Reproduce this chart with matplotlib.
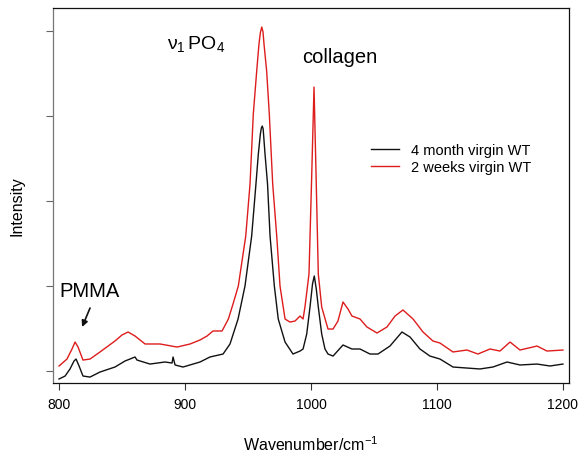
import matplotlib
matplotlib.use("Agg")
import matplotlib.pyplot as plt

plt.rcParams['font.family'] = ['Liberation Sans', 'DejaVu Sans']
plt.rcParams['mathtext.fontset'] = 'custom'
plt.rcParams['mathtext.rm'] = 'Liberation Sans'
plt.rcParams['mathtext.it'] = 'Liberation Sans:italic'
plt.rcParams['mathtext.bf'] = 'Liberation Sans:bold'

# ---- data (wavenumber in cm^-1, intensity in arbitrary units) ----
red_wn = [800.0, 806.3, 810.3, 812.7, 815.1, 819.0, 824.6, 832.5, 844.4, 850.0,
          854.8, 860.3, 868.3, 880.2, 893.7, 904.0, 911.9, 917.5, 922.2, 929.4,
          934.4, 938.1, 942.3, 948.2, 951.6, 954.2, 956.9, 958.7, 959.8,
          960.9, 961.9, 962.7, 964.8, 966.9, 969.6, 972.8, 975.4, 979.4,
          983.3, 987.3, 991.3, 993.7, 995.2, 998.4, 1000.6, 1002.4, 1004.0, 1005.8,
          1008.5, 1013.5, 1017.5, 1021.4, 1025.4, 1029.4, 1032.5, 1038.9, 1044.4, 1052.4,
          1060.3, 1066.7, 1073.0, 1081.0, 1088.9, 1096.8, 1102.4, 1112.7, 1123.8, 1132.5,
          1142.1, 1150.0, 1158.0, 1165.9, 1179.4, 1187.3, 1200.0]
red_int = [0.059, 0.141, 0.259, 0.341, 0.282, 0.129, 0.141, 0.224, 0.353, 0.424,
           0.459, 0.412, 0.318, 0.318, 0.282, 0.318, 0.365, 0.412, 0.471, 0.471,
           0.612, 0.788, 1.000, 1.588, 2.200, 3.024, 3.529, 3.847, 3.980,
           4.047, 3.990, 3.847, 3.529, 3.024, 2.200, 1.588, 1.000, 0.612,
           0.576, 0.588, 0.647, 0.612, 0.753, 1.141, 2.318, 3.341, 2.318, 1.141,
           0.753, 0.494, 0.494, 0.588, 0.812, 0.729, 0.647, 0.612, 0.518, 0.447,
           0.518, 0.647, 0.718, 0.612, 0.459, 0.353, 0.329, 0.224, 0.247, 0.200,
           0.259, 0.235, 0.341, 0.247, 0.294, 0.235, 0.247]

black_wn = [800.0, 804.8, 808.7, 811.9, 813.5, 815.9, 819.0, 824.6, 832.5, 844.4,
            852.4, 856.3, 860.3, 861.9, 864.3, 872.2, 884.1, 889.7, 890.5, 892.1,
            898.4, 911.9, 919.8, 930.2, 935.7, 942.1, 947.6, 952.9, 956.3, 958.2,
            959.8, 960.6, 961.3, 962.0, 962.5, 963.5, 965.5, 967.5, 970.9, 974.0,
            979.4, 985.7, 991.3, 993.7, 996.6, 999.2, 1001.2, 1002.6, 1004.2, 1005.8,
            1008.5, 1011.1, 1013.5, 1017.5, 1025.4, 1032.5, 1038.9, 1046.8, 1053.2, 1062.7,
            1072.2, 1078.6, 1086.5, 1094.4, 1102.4, 1112.7, 1123.8, 1134.1, 1144.4, 1155.6,
            1165.9, 1179.4, 1189.7, 1200.0]
black_int = [-0.094, -0.059, 0.024, 0.118, 0.141, 0.059, -0.059, -0.071, -0.012, 0.047,
             0.118, 0.141, 0.165, 0.129, 0.118, 0.082, 0.106, 0.094, 0.165, 0.071,
             0.047, 0.106, 0.165, 0.200, 0.318, 0.612, 1.000, 1.588, 2.200, 2.553,
             2.788, 2.860, 2.882, 2.850, 2.753, 2.553, 2.200, 1.588, 1.000, 0.612,
             0.341, 0.200, 0.235, 0.259, 0.435, 0.753, 1.024, 1.118, 0.965, 0.753,
             0.435, 0.259, 0.200, 0.176, 0.306, 0.259, 0.259, 0.200, 0.200, 0.294,
             0.459, 0.400, 0.259, 0.176, 0.141, 0.047, 0.035, 0.024, 0.047, 0.106,
             0.071, 0.082, 0.059, 0.082]

series_labels = ["4 month virgin WT", "2 weeks virgin WT"]
x_ticks = [800, 900, 1000, 1100, 1200]
y_ticks = [0, 1, 2, 3, 4]

# ---- figure ----
fig = plt.figure(figsize=(5.81, 4.56), dpi=100)
ax = fig.add_axes([53/581, 1-384/456, (569-53)/581, (384-9)/456])

ax.plot(black_wn, black_int, color='#111111', lw=1.0, label=series_labels[0])
ax.plot(red_wn, red_int, color='#dd1c1c', lw=1.0, label=series_labels[1])

ax.set_xlim(795.2, 1204.8)
ax.set_ylim(-0.141, 4.271)
ax.set_xticks(x_ticks)
ax.set_yticks(y_ticks)
ax.set_yticklabels([])
ax.tick_params(axis='x', direction='out', length=5, width=0.8, labelsize=10, pad=5, color='#333333')
ax.tick_params(axis='y', direction='out', length=5, width=0.8, color='#666666')
for s in ['top', 'right', 'bottom']:
    ax.spines[s].set_linewidth(0.9)
    ax.spines[s].set_color('#111111')
ax.spines['left'].set_linewidth(0.9)
ax.spines['left'].set_color('#777777')

ax.set_xlabel(r'Wavenumber/cm$^{-1}$', fontsize=11.5)
ax.xaxis.set_label_coords(0.5, -0.137)
ax.set_ylabel('Intensity', fontsize=11.5)
ax.yaxis.set_label_coords(-0.055, 0.475)

ax.text(885.7, 3.86, r'$\mathrm{\nu}_{1}\,\mathrm{PO}_{4}$', fontsize=14, ha='left', va='center')
ax.text(1022.6, 3.70, 'collagen', fontsize=14.5, ha='center', va='center')
ax.text(800, 0.95, 'PMMA', fontsize=14.5, ha='left', va='center')
ax.annotate('', xy=(818.3, 0.518), xytext=(824.6, 0.741),
            arrowprops=dict(arrowstyle='-|>', color='#111111', lw=1.2,
                            mutation_scale=9, shrinkA=0, shrinkB=0))

leg = ax.legend(loc='upper left', bbox_to_anchor=(0.616, 0.641), frameon=False,
                fontsize=10.5, handlelength=1.95, handletextpad=0.8,
                labelspacing=0.25, borderpad=0, borderaxespad=0)

fig.savefig('out.png', dpi=100)
